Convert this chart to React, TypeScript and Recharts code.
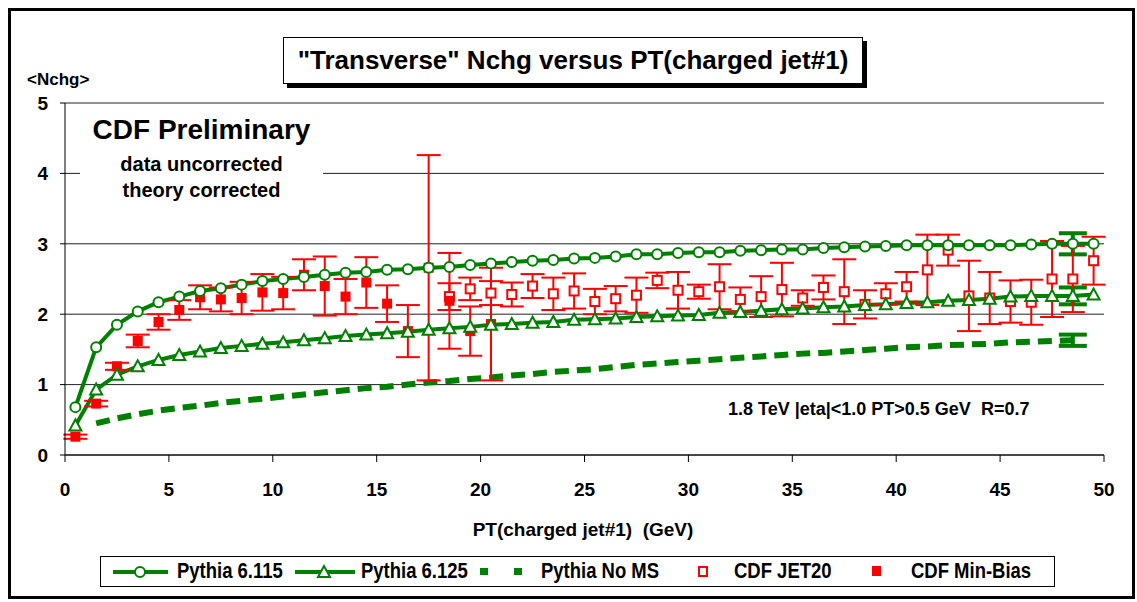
import React from "react";
import { ComposedChart, Line, Scatter, ErrorBar, XAxis, YAxis, CartesianGrid } from "recharts";

const GREEN = "#008000";
const RED = "#ff0000";
const FONT = "'Liberation Sans', Arial, sans-serif";

// PT(charged jet#1) bin centres, GeV
const ptBins = [
  0.5, 1.5, 2.5, 3.5, 4.5, 5.5, 6.5, 7.5, 8.5, 9.5,
  10.5, 11.5, 12.5, 13.5, 14.5, 15.5, 16.5, 17.5, 18.5, 19.5,
  20.5, 21.5, 22.5, 23.5, 24.5, 25.5, 26.5, 27.5, 28.5, 29.5,
  30.5, 31.5, 32.5, 33.5, 34.5, 35.5, 36.5, 37.5, 38.5, 39.5,
  40.5, 41.5, 42.5, 43.5, 44.5, 45.5, 46.5, 47.5, 48.5, 49.5,
];

const pythia115 = [
  0.68, 1.53, 1.85, 2.04, 2.17, 2.25, 2.33, 2.37, 2.42, 2.47,
  2.5, 2.53, 2.56, 2.59, 2.6, 2.63, 2.64, 2.66, 2.67, 2.7,
  2.72, 2.74, 2.76, 2.77, 2.79, 2.8, 2.82, 2.85, 2.85, 2.87,
  2.88, 2.88, 2.9, 2.91, 2.92, 2.92, 2.94, 2.95, 2.96, 2.97,
  2.98, 2.98, 2.98, 2.98, 2.98, 2.98, 2.99, 3.0, 3.0, 3.0,
];

const pythia125 = [
  0.42, 0.93, 1.14, 1.26, 1.35, 1.42, 1.47, 1.52, 1.55, 1.58,
  1.6, 1.63, 1.66, 1.69, 1.71, 1.73, 1.75, 1.78, 1.8, 1.82,
  1.85, 1.86, 1.88, 1.89, 1.92, 1.93, 1.94, 1.96, 1.97, 1.98,
  1.99, 2.02, 2.03, 2.05, 2.07, 2.08, 2.1, 2.11, 2.13, 2.14,
  2.16, 2.17, 2.19, 2.2, 2.22, 2.25, 2.26, 2.26, 2.26, 2.28,
];

// no MS curve runs from 1.5 to 48.5 GeV
const noMsBins = ptBins.slice(1, 49);
const pythiaNoMS = [
  0.45, 0.52, 0.58, 0.63, 0.67, 0.7, 0.74, 0.77, 0.8,
  0.83, 0.86, 0.89, 0.92, 0.95, 0.97, 1.0, 1.03, 1.05, 1.08,
  1.1, 1.13, 1.15, 1.18, 1.2, 1.22, 1.25, 1.28, 1.3, 1.32,
  1.34, 1.36, 1.38, 1.4, 1.42, 1.44, 1.45, 1.47, 1.49, 1.51,
  1.53, 1.54, 1.56, 1.57, 1.58, 1.6, 1.61, 1.62, 1.63,
];

// CDF Min-Bias: 0.5 .. 20.5 GeV
const minBiasBins = ptBins.slice(0, 21);
const minBias = [
  0.26, 0.73, 1.26, 1.62, 1.89, 2.06, 2.24, 2.21, 2.23, 2.31,
  2.3, 2.56, 2.4, 2.25, 2.45, 2.15, 1.76, 2.66, 2.19, 1.76, 1.86,
];
const minBiasErr = [
  0.03, 0.04, 0.05, 0.09, 0.11, 0.14, 0.17, 0.17, 0.23, 0.26,
  0.23, 0.22, 0.42, 0.25, 0.36, 0.26, 0.37, 1.6, 0.68, 0.35, 0.8,
];

// CDF JET20: 18.5 .. 49.5 GeV
const jet20Bins = ptBins.slice(18);
const jet20 = [
  2.25, 2.36, 2.3, 2.28, 2.4, 2.29, 2.33, 2.18, 2.22, 2.27,
  2.48, 2.34, 2.32, 2.39, 2.21, 2.25, 2.35, 2.23, 2.38, 2.32,
  2.14, 2.29, 2.39, 2.63, 2.91, 2.26, 2.23, 2.18, 2.17, 2.5,
  2.5, 2.76,
];
const jet20Err = [
  0.19, 0.16, 0.17, 0.17, 0.17, 0.23, 0.25, 0.18, 0.18, 0.25,
  0.11, 0.26, 0.1, 0.32, 0.17, 0.29, 0.38, 0.11, 0.17, 0.46,
  0.2, 0.15, 0.21, 0.5, 0.22, 0.5, 0.37, 0.3, 0.32, 0.54,
  0.47, 0.34,
];

// theory uncertainty shown at 48.5 GeV
const theoryErrBin = 48.5;
const theoryErrY = [3.0, 2.26, 1.63];
const theoryErr = [0.15, 0.12, 0.08];

const xTicks = [0, 5, 10, 15, 20, 25, 30, 35, 40, 45, 50];
const yTicks = [0, 1, 2, 3, 4, 5];

const d115 = ptBins.map((x, i) => ({ x, y: pythia115[i] }));
const d125 = ptBins.map((x, i) => ({ x, y: pythia125[i] }));
const dNoMS = noMsBins.map((x, i) => ({ x, y: pythiaNoMS[i] }));
const dMinBias = minBiasBins.map((x, i) => ({ x, y: minBias[i], err: minBiasErr[i] }));
const dJet20 = jet20Bins.map((x, i) => ({ x, y: jet20[i], err: jet20Err[i] }));
const dTheoryErr = theoryErrY.map((y, i) => ({ x: theoryErrBin, y, err: theoryErr[i] }));

const CircleDot = (p: any) =>
  p.cx == null ? null : (
    <circle key={p.key} cx={p.cx} cy={p.cy} r={5} fill="#fff" stroke={GREEN} strokeWidth={2} />
  );

const TriangleDot = (p: any) =>
  p.cx == null ? null : (
    <polygon
      key={p.key}
      points={`${p.cx},${p.cy - 6} ${p.cx - 6},${p.cy + 5} ${p.cx + 6},${p.cy + 5}`}
      fill="#fff"
      stroke={GREEN}
      strokeWidth={2}
    />
  );

const FilledSquare = (p: any) => <rect x={p.cx - 5} y={p.cy - 5} width={10} height={10} fill={RED} />;
const OpenSquare = (p: any) => (
  <rect x={p.cx - 4.5} y={p.cy - 4.5} width={9} height={9} fill="#fff" stroke={RED} strokeWidth={2} />
);
const NoShape = () => <g />;

const abs = (s: React.CSSProperties): React.CSSProperties => ({ position: "absolute", ...s });

function LegendBox() {
  // the legend face is a condensed bold sans; squeeze Liberation Sans to match
  const txt: React.CSSProperties = {
    fontFamily: FONT,
    fontWeight: 700,
    fontSize: 22,
    whiteSpace: "pre",
    transform: "scaleX(0.84)",
    transformOrigin: "left center",
  };
  return (
    <div
      style={abs({
        left: 100,
        top: 556,
        width: 955,
        height: 31,
        border: "1px solid #000",
        background: "#fff",
        boxSizing: "border-box",
      })}
    >
      <svg style={abs({ left: 0, top: 0 })} width={955} height={31}>
        <line x1={12} x2={67} y1={15} y2={15} stroke={GREEN} strokeWidth={4} />
        <circle cx={39} cy={15} r={5} fill="#fff" stroke={GREEN} strokeWidth={2} />
        <line x1={194} x2={254} y1={15} y2={15} stroke={GREEN} strokeWidth={4} />
        <polygon points="223,9 217,20 229,20" fill="#fff" stroke={GREEN} strokeWidth={2} />
        <rect x={379} y={11} width={8} height={7} fill={GREEN} />
        <rect x={413} y={11} width={8} height={7} fill={GREEN} />
        <rect x={598} y={10} width={8} height={9} fill="#fff" stroke={RED} strokeWidth={2} />
        <rect x={771} y={9} width={9} height={10} fill={RED} />
      </svg>
      <div style={abs({ left: 76, top: 1, ...txt })}>Pythia 6.115</div>
      <div style={abs({ left: 260, top: 1, ...txt })}>Pythia 6.125</div>
      <div style={abs({ left: 440, top: 1, ...txt })}>Pythia No MS</div>
      <div style={abs({ left: 633, top: 1, ...txt })}>CDF JET20</div>
      <div style={abs({ left: 810, top: 1, ...txt })}>CDF Min-Bias</div>
    </div>
  );
}

export default function App() {
  const bold: React.CSSProperties = { fontFamily: FONT, fontWeight: 700, color: "#000", whiteSpace: "pre" };
  return (
    <div style={abs({ left: 0, top: 0, width: 1137, height: 602, background: "#fff", overflow: "hidden" })}>
      <ComposedChart width={1137} height={602} margin={{ top: 103, right: 33, bottom: 117, left: 25 }}>
        <CartesianGrid vertical={false} stroke="#222" strokeWidth={1} />
        <XAxis
          dataKey="x"
          type="number"
          domain={[0, 50]}
          ticks={xTicks}
          height={30}
          tickSize={7}
          tickMargin={21}
          stroke="#000"
          tick={{ fill: "#000", fontFamily: FONT, fontWeight: 700, fontSize: 19 }}
        />
        <YAxis
          type="number"
          domain={[0, 5]}
          ticks={yTicks}
          width={40}
          tickSize={5}
          tickMargin={12}
          stroke="#000"
          tick={{ fill: "#000", fontFamily: FONT, fontWeight: 700, fontSize: 19 }}
        />
        <Line
          data={dNoMS}
          dataKey="y"
          stroke={GREEN}
          strokeWidth={6}
          strokeDasharray="14 8"
          dot={false}
          isAnimationActive={false}
        />
        <Line
          data={d125}
          dataKey="y"
          stroke={GREEN}
          strokeWidth={4}
          dot={TriangleDot}
          activeDot={false}
          isAnimationActive={false}
        />
        <Line
          data={d115}
          dataKey="y"
          stroke={GREEN}
          strokeWidth={4}
          dot={CircleDot}
          activeDot={false}
          isAnimationActive={false}
        />
        <Scatter data={dTheoryErr} dataKey="y" shape={NoShape} isAnimationActive={false}>
          <ErrorBar dataKey="err" direction="y" width={14} stroke={GREEN} strokeWidth={4} />
        </Scatter>
        <Scatter data={dJet20} dataKey="y" shape={OpenSquare} isAnimationActive={false}>
          <ErrorBar dataKey="err" direction="y" width={12} stroke={RED} strokeWidth={2} />
        </Scatter>
        <Scatter data={dMinBias} dataKey="y" shape={FilledSquare} isAnimationActive={false}>
          <ErrorBar dataKey="err" direction="y" width={12} stroke={RED} strokeWidth={2} />
        </Scatter>
      </ComposedChart>

      {/* white panel behind the preliminary label */}
      <div style={abs({ left: 80, top: 110, width: 243, height: 93, background: "#fff" })} />
      <div style={abs({ left: 80, top: 114, width: 243, textAlign: "center", fontSize: 28, ...bold })}>
        CDF Preliminary
      </div>
      <div
        style={abs({ left: 80, top: 151, width: 243, textAlign: "center", fontSize: 20, lineHeight: "26px", ...bold })}
      >
        {"data uncorrected\ntheory corrected"}
      </div>
      <div style={abs({ left: 728, top: 399, fontSize: 18, ...bold })}>{"1.8 TeV |eta|<1.0 PT>0.5 GeV  R=0.7"}</div>

      <div style={abs({ left: 27, top: 70, fontSize: 17, ...bold })}>{"<Nchg>"}</div>
      <div style={abs({ left: 0, width: 1166, top: 519, textAlign: "center", fontSize: 19, ...bold })}>
        {"PT(charged jet#1)  (GeV)"}
      </div>

      <div
        style={abs({
          left: 283,
          top: 37,
          width: 580,
          height: 47,
          border: "1px solid #000",
          background: "#fff",
          boxShadow: "4px 4px 0 #000",
          boxSizing: "border-box",
          textAlign: "center",
          lineHeight: "45px",
          fontSize: 26,
          ...bold,
        })}
      >
        {'"Transverse" Nchg versus PT(charged jet#1)'}
      </div>

      <LegendBox />

      <div
        style={abs({ left: 8, top: 8, width: 1127, height: 591, border: "3px solid #000", boxSizing: "border-box" })}
      />
    </div>
  );
}
